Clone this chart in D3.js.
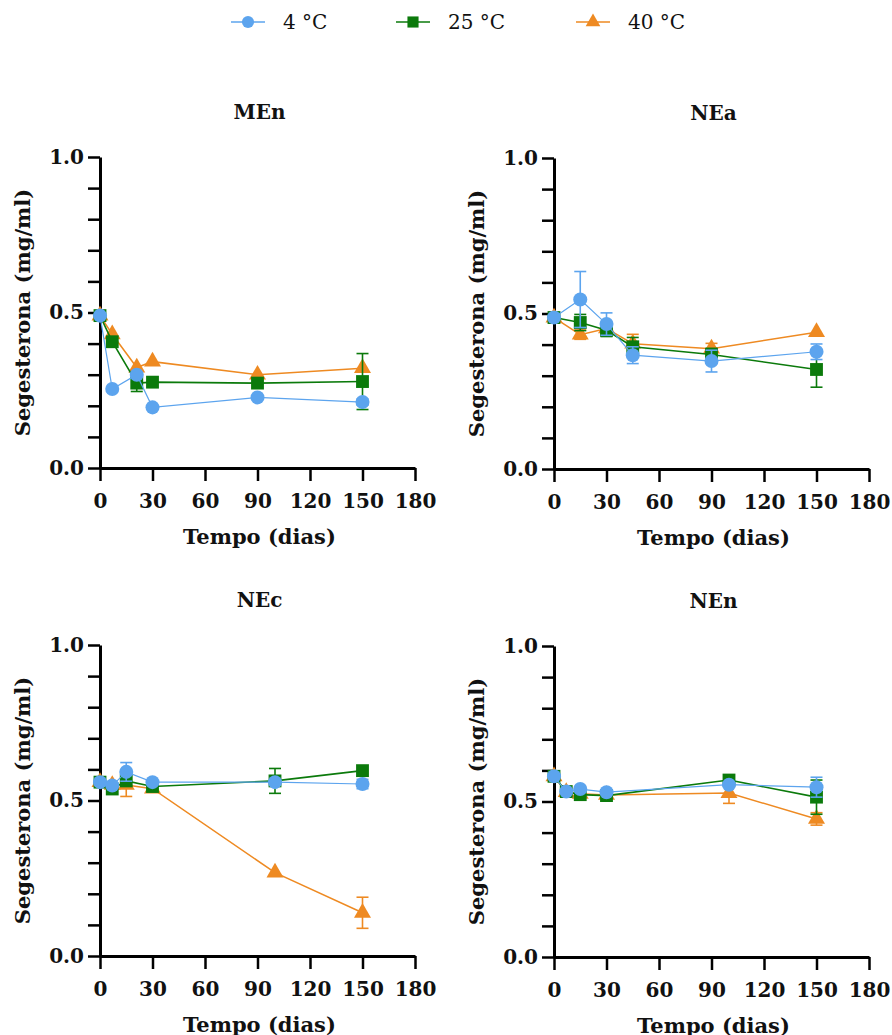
<!DOCTYPE html>
<html>
<head>
<meta charset="utf-8">
<script src="https://cdn.jsdelivr.net/npm/d3@7"></script>
<style>
  body { margin: 0; background: #fff; }
  text { font-family: "DejaVu Serif", Georgia, serif; }
</style>
</head>
<body>
<svg id="chart"></svg>
<script>
const seriesNames = ["4 °C", "25 °C", "40 °C"];
const colors = ["#5ca4ee", "#0b7a0b", "#ee8a22"];
const xTicks = [0, 30, 60, 90, 120, 150, 180];
const yTicks = [0, 0.1, 0.2, 0.3, 0.4, 0.5, 0.6, 0.7, 0.8, 0.9, 1.0];
const yLabels = [0, 0.5, 1.0];

// MEn
const menDays = [0, 7, 21, 30, 90, 150];
const men4 = [0.49, 0.254, 0.30, 0.195, 0.227, 0.212];
const men4Err = [0, 0, 0, 0, 0, 0.01];
const men25 = [0.49, 0.406, 0.273, 0.276, 0.273, 0.278];
const men25Err = [0, 0, 0.027, 0, 0, 0.09];
const men40 = [0.49, 0.43, 0.323, 0.342, 0.30, 0.321];
const men40Err = [0, 0, 0, 0, 0, 0];

// NEa
const neaDays = [0, 15, 30, 45, 90, 150];
const nea4 = [0.487, 0.545, 0.466, 0.366, 0.347, 0.377];
const nea4Err = [0, 0.09, 0.036, 0.027, 0.035, 0.025];
const nea25 = [0.487, 0.471, 0.446, 0.393, 0.368, 0.32];
const nea25Err = [0, 0.026, 0.02, 0.03, 0.02, 0.057];
const nea40 = [0.487, 0.432, 0.452, 0.403, 0.387, 0.44];
const nea40Err = [0, 0.015, 0.015, 0.03, 0.017, 0];

// NEc
const necDays = [0, 7, 15, 30, 100, 150];
const nec4 = [0.559, 0.548, 0.592, 0.559, 0.559, 0.553];
const nec4Err = [0, 0, 0.03, 0, 0, 0.015];
const nec25 = [0.559, 0.537, 0.563, 0.545, 0.563, 0.596];
const nec25Err = [0, 0, 0, 0, 0.04, 0];
const nec40 = [0.559, 0.55, 0.55, 0.538, 0.268, 0.139];
const nec40Err = [0, 0, 0.037, 0, 0, 0.05];

// NEn
const nenDays = [0, 7, 15, 30, 100, 150];
const nen4 = [0.581, 0.532, 0.54, 0.53, 0.554, 0.546];
const nen4Err = [0, 0, 0, 0, 0, 0.032];
const nen25 = [0.581, 0.532, 0.522, 0.519, 0.569, 0.514];
const nen25Err = [0, 0, 0, 0, 0, 0.055];
const nen40 = [0.581, 0.53, 0.525, 0.521, 0.527, 0.444];
const nen40Err = [0, 0, 0, 0, 0.033, 0.02];

const panels = [
  { title: "MEn", days: menDays, vals: [men4, men25, men40], errs: [men4Err, men25Err, men40Err], left: 100, top: 157 },
  { title: "NEa", days: neaDays, vals: [nea4, nea25, nea40], errs: [nea4Err, nea25Err, nea40Err], left: 554, top: 158 },
  { title: "NEc", days: necDays, vals: [nec4, nec25, nec40], errs: [nec4Err, nec25Err, nec40Err], left: 100, top: 645 },
  { title: "NEn", days: nenDays, vals: [nen4, nen25, nen40], errs: [nen4Err, nen25Err, nen40Err], left: 554, top: 646 }
];

const W = 315, H = 311;
const symbols = [d3.symbolCircle, d3.symbolSquare, d3.symbolTriangle];
const symSizes = [155, 165, 125];
const lineW = [1.2, 1.6, 1.5];

const svg = d3.select("#chart").attr("width", 892).attr("height", 1035);

// legend
const legendX = [248, 413, 593];
const lg = svg.append("g").attr("class", "legend");
seriesNames.forEach((name, i) => {
  const g = lg.append("g").attr("transform", `translate(${legendX[i]},22)`);
  g.append("line").attr("x1", -17).attr("x2", 17)
    .attr("stroke", colors[i]).attr("stroke-width", 1.5);
  g.append("path").attr("d", d3.symbol(symbols[i], symSizes[i] * 0.75)())
    .attr("fill", colors[i]);
  g.append("text").attr("x", 35).attr("y", 7)
    .attr("font-size", 20).attr("fill", "#111").text(name);
});

panels.forEach(p => {
  const x = d3.scaleLinear().domain([0, 180]).range([0, W]);
  const y = d3.scaleLinear().domain([0, 1]).range([H, 0]);
  const g = svg.append("g").attr("transform", `translate(${p.left},${p.top})`);

  g.append("text").attr("x", W / 2 + 2).attr("y", -38)
    .attr("text-anchor", "middle").attr("font-weight", "bold")
    .attr("font-size", 20).attr("fill", "#111").text(p.title);

  const yAxis = d3.axisLeft(y).tickValues(yTicks).tickSize(12).tickPadding(4)
    .tickSizeOuter(0)
    .tickFormat(d => yLabels.some(v => Math.abs(v - d) < 1e-9) ? d3.format(".1f")(d) : "");
  const ya = g.append("g").call(yAxis);

  const xAxis = d3.axisBottom(x).tickValues(xTicks).tickSize(13).tickPadding(13)
    .tickSizeOuter(0);
  const xa = g.append("g").attr("transform", `translate(0,${H})`).call(xAxis);

  [ya, xa].forEach(a => {
    a.select(".domain").attr("stroke-width", 3);
    a.selectAll(".tick line").attr("stroke-width", 2.5);
    a.selectAll("text").attr("font-size", 20).attr("font-weight", "bold")
      .attr("font-family", "'DejaVu Serif', Georgia, serif").attr("fill", "#111");
  });

  g.append("text").attr("x", W / 2 + 2).attr("y", H + 76)
    .attr("text-anchor", "middle").attr("font-weight", "bold")
    .attr("font-size", 21).attr("fill", "#111").text("Tempo (dias)");

  g.append("text")
    .attr("transform", `translate(-70,${H / 2}) rotate(-90)`)
    .attr("text-anchor", "middle").attr("font-weight", "bold")
    .attr("font-size", 21).attr("fill", "#111").text("Segesterona (mg/ml)");

  // draw 40, 25, then 4 on top
  [2, 1, 0].forEach(si => {
    const pts = p.days.map((d, j) => ({ d: d, v: p.vals[si][j], e: p.errs[si][j] }));
    const sg = g.append("g");
    const line = d3.line().x(q => x(q.d)).y(q => y(q.v));
    sg.append("path").datum(pts).attr("d", line)
      .attr("fill", "none").attr("stroke", colors[si]).attr("stroke-width", lineW[si]);

    const eb = sg.selectAll(".eb").data(pts.filter(q => q.e > 0)).enter().append("g");
    eb.append("line").attr("x1", q => x(q.d)).attr("x2", q => x(q.d))
      .attr("y1", q => y(q.v - q.e)).attr("y2", q => y(q.v + q.e))
      .attr("stroke", colors[si]).attr("stroke-width", 1.6);
    [-1, 1].forEach(s => {
      eb.append("line").attr("x1", q => x(q.d) - 6).attr("x2", q => x(q.d) + 6)
        .attr("y1", q => y(q.v + s * q.e)).attr("y2", q => y(q.v + s * q.e))
        .attr("stroke", colors[si]).attr("stroke-width", 1.6);
    });

    sg.selectAll(".pt").data(pts).enter().append("path")
      .attr("transform", q => `translate(${x(q.d)},${y(q.v)})`)
      .attr("d", d3.symbol(symbols[si], symSizes[si])())
      .attr("fill", colors[si]);
  });
});
</script>
</body>
</html>
